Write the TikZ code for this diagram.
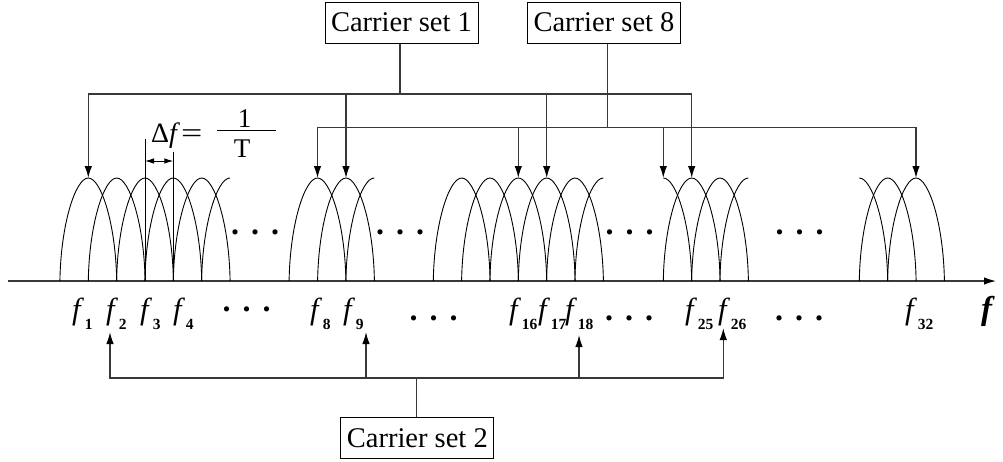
\documentclass[tikz,border=0pt]{standalone}
\usepackage{fontspec}
\setmainfont{Liberation Serif}
\usetikzlibrary{arrows.meta}
\newcommand{\flab}[1]{\textit{f}\kern0.6pt\raisebox{-10pt}{\fontsize{15.5}{16}\selectfont\bfseries #1}}
\newcommand{\threedots}{\textbf{.}\hspace{12pt}\textbf{.}\hspace{12pt}\textbf{.}}
\begin{document}
\begin{tikzpicture}[x=1pt,y=-1pt,
  cbox/.style={draw=black,line width=1pt,minimum width=153pt,minimum height=41pt,inner sep=0pt,font=\fontsize{28.5}{30}\selectfont},
  conn/.style={draw=black!78,line width=1.3pt},
  tip/.style={-{Latex[length=12pt,width=7.5pt,color=black]}},
  lobe/.style={draw=black,line width=0.9pt},
  flabel/.style={anchor=base west,inner sep=0pt,font=\fontsize{30.5}{32}\selectfont},
  dots/.style={anchor=base,inner sep=0pt,font=\fontsize{32}{34}\selectfont}
]
\useasboundingbox (0,0) rectangle (1003,461);

% axis
\coordinate (ax0) at (8,281);
\coordinate (ax1) at (996,281);
\draw[conn,-{Latex[length=12pt,width=7.5pt,color=black]}] (ax0) -- (ax1);

% lobes
\foreach \p in {88.3,116.7,145,173.3,201.7,317.5,346,461.7,490,518.3,546.7,575,691.7,720,887.7,916}
  \draw[lobe] (\p-28.4,281) .. controls (\p-27.55,224.35) and (\p-12.8,178) .. (\p,178)
              .. controls (\p+12.8,178) and (\p+27.55,224.35) .. (\p+28.4,281);
\foreach \p in {230,374.3,603.3,748.3}
  \draw[lobe] (\p-28.4,281) .. controls (\p-27.55,224.35) and (\p-12.8,178) .. (\p,178);
\foreach \p in {663.3,859.3}
  \draw[lobe] (\p,178) .. controls (\p+12.8,178) and (\p+27.55,224.35) .. (\p+28.4,281);

% peaks
\coordinate (p1) at (88.3,178);
\coordinate (p8) at (317.5,178);
\coordinate (p9) at (346,178);
\coordinate (p16) at (518.3,178);
\coordinate (p17) at (546.7,178);
\coordinate (p24) at (663.3,178);
\coordinate (p25) at (691.7,178);
\coordinate (p32) at (916,178);

% boxes
\node[cbox] (c1) at (401.5,22.5) {Carrier set 1};
\node[cbox] (c8) at (604,22.5) {Carrier set 8};
\node[cbox] (c2) at (417.3,437.8) {Carrier set 2};

% carrier set 1
\coordinate (s1) at (400,94);
\draw[conn] (s1 |- c1.south) -- (s1);
\draw[conn,tip] (s1) -| (p1);
\draw[conn,tip] (s1) -| (p25);
\draw[conn,tip] (p9 |- s1) -- (p9);
\draw[conn,tip] (p17 |- s1) -- (p17);

% carrier set 8
\coordinate (s8) at (607.3,127.3);
\draw[conn] (s8 |- c8.south) -- (s8);
\draw[conn,tip] (s8) -| (p8);
\draw[conn,tip] (s8) -| (p32);
\draw[conn,tip] (p16 |- s8) -- (p16);
\draw[conn,tip] (p24 |- s8) -- (p24);

% carrier set 2
\coordinate (s2) at (416.7,378);
\coordinate (t2) at (110,332);
\coordinate (t9) at (366,332);
\coordinate (t18) at (579,335);
\coordinate (t26) at (723.3,328);
\draw[conn] (s2 |- c2.north) -- (s2);
\draw[conn,tip] (s2) -| (t2);
\draw[conn,tip] (s2) -| (t26);
\draw[conn,tip] (t9 |- s2) -- (t9);
\draw[conn,tip] (t18 |- s2) -- (t18);

% delta f marker
\coordinate (d1) at (145,139.3);
\coordinate (d2) at (173.3,151.7);
\coordinate (da) at (145,161);
\coordinate (db) at (173.3,161);
\draw[lobe] (d1) -- (d1 |- ax0);
\draw[lobe] (d2) -- (d2 |- ax0);
\draw[lobe,{Latex[length=9pt,width=5.5pt]}-{Latex[length=9pt,width=5.5pt]}] (da) -- (db);
\node[anchor=base west,inner sep=0pt,font=\fontsize{28}{30}\selectfont] (dft) at (151,142) {Δ\textit{f}\kern1pt\scalebox{1.35}[1]{=}};
\node[anchor=base,inner sep=0pt,font=\fontsize{27}{30}\selectfont] (num) at (244.5,127) {1};
\node[anchor=base,inner sep=0pt,font=\fontsize{27}{30}\selectfont] (den) at (242,157) {T};
\coordinate (fb1) at (217,130.7);
\coordinate (fb2) at (276,130.7);
\draw[lobe] (fb1) -- (fb2);

% top dots
\foreach \x/\n in {255/a,400/b,629.5/c,799.5/d}
  \node[dots] (td\n) at (\x,234) {\threedots};
% bottom dots
\node[dots] (bda) at (246.5,311) {\threedots};
\foreach \x/\n in {433.5/b,629/c,799/d}
  \node[dots] (bd\n) at (\x,320) {\threedots};

% frequency labels
\node[flabel] (l1) at (72,319) {\flab{1}};
\node[flabel] (l2) at (106,319) {\flab{2}};
\node[flabel] (l3) at (140,319) {\flab{3}};
\node[flabel] (l4) at (173,319) {\flab{4}};
\node[flabel] (l8) at (310,319) {\flab{8}};
\node[flabel] (l9) at (343,319) {\flab{9}};
\node[flabel] (l16) at (509,319) {\flab{16}};
\node[flabel] (l17) at (538,319) {\flab{17}};
\node[flabel] (l18) at (565,319) {\flab{18}};
\node[flabel] (l25) at (685,319) {\flab{25}};
\node[flabel] (l26) at (718,319) {\flab{26}};
\node[flabel] (l32) at (905,319) {\flab{32}};
\node[anchor=base west,inner sep=0pt,font=\fontsize{33}{34}\selectfont\bfseries\itshape] (fbig) at (981,319) {f};
\end{tikzpicture}
\end{document}
